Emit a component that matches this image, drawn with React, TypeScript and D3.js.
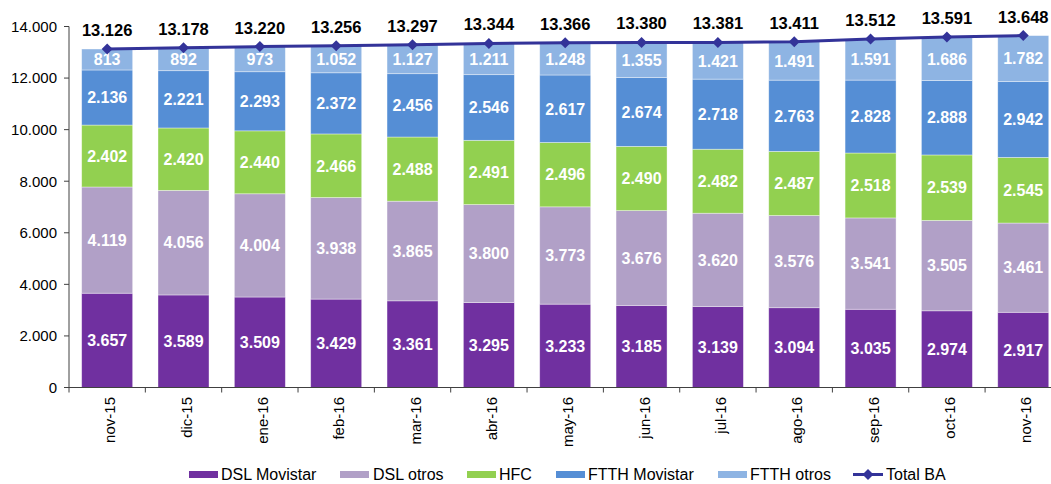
import React from "react";
import * as d3 from "d3";

const categories = ["nov-15","dic-15","ene-16","feb-16","mar-16","abr-16","may-16","jun-16","jul-16","ago-16","sep-16","oct-16","nov-16"];
const dslMovistar = [3657,3589,3509,3429,3361,3295,3233,3185,3139,3094,3035,2974,2917];
const dslOtros = [4119,4056,4004,3938,3865,3800,3773,3676,3620,3576,3541,3505,3461];
const hfc = [2402,2420,2440,2466,2488,2491,2496,2490,2482,2487,2518,2539,2545];
const ftthMovistar = [2136,2221,2293,2372,2456,2546,2617,2674,2718,2763,2828,2888,2942];
const ftthOtros = [813,892,973,1052,1127,1211,1248,1355,1421,1491,1591,1686,1782];
const totalBA = [13126,13178,13220,13256,13297,13344,13366,13380,13381,13411,13512,13591,13648];
const yTicks = [0,2000,4000,6000,8000,10000,12000,14000];

const seriesNames = ["DSL Movistar","DSL otros","HFC","FTTH Movistar","FTTH otros"];
const seriesData = [dslMovistar, dslOtros, hfc, ftthMovistar, ftthOtros];
const colors = ["#7030A0","#B1A0C7","#92D050","#558ED5","#8EB4E3"];
const lineColor = "#333399";

const fmt = (v: number) => {
  const s = String(v);
  return s.length > 3 ? s.slice(0, s.length - 3) + "." + s.slice(s.length - 3) : s;
};

const FONT = "'Liberation Sans', Arial, sans-serif";

export default function App() {
  const W = 1051, H = 484;
  const x0 = 69, x1 = 69 + 13 * 76.34;
  const x = d3.scaleBand<string>().domain(categories).range([x0, x1]).paddingInner(0.332).paddingOuter(0.166);
  const y = d3.scaleLinear().domain([0, 14000]).range([387.5, 26.5]);
  const step = x.step();

  const rows = categories.map((c, i) => {
    const obj: any = { cat: c };
    seriesNames.forEach((n, k) => (obj[n] = seriesData[k][i]));
    return obj;
  });
  const stacked = d3.stack().keys(seriesNames)(rows);

  const line = d3.line<number>().x((_, i) => x(categories[i])! + x.bandwidth() / 2).y((d) => y(d));

  const legendItems = [
    { name: "DSL Movistar", sx: 189, tx: 221, color: colors[0] },
    { name: "DSL otros", sx: 340, tx: 373, color: colors[1] },
    { name: "HFC", sx: 467, tx: 499, color: colors[2] },
    { name: "FTTH Movistar", sx: 556, tx: 588, color: colors[3] },
    { name: "FTTH otros", sx: 718, tx: 750, color: colors[4] },
  ];
  const ly = 474;

  return (
    <svg width={W} height={H} style={{ position: "absolute", left: 0, top: 0 }} fontFamily={FONT}>
      <rect x={0} y={0} width={W} height={H} fill="#fff" />
      {/* bars */}
      {stacked.map((layer, k) => (
        <g key={k}>
          {layer.map((d, i) => (
            <rect key={i} x={x(categories[i])} y={y(d[1])} width={x.bandwidth()} height={y(d[0]) - y(d[1])}
              fill={colors[k]} stroke="#ffffff" strokeOpacity={0.5} strokeWidth={0.75} />
          ))}
          {layer.map((d, i) => (
            <text key={"t" + i} x={x(categories[i])! + x.bandwidth() / 2} y={(y(d[0]) + y(d[1])) / 2}
              dy="0.36em" textAnchor="middle" fill="#fff" fontWeight="bold" fontSize={16}>
              {fmt(seriesData[k][i])}
            </text>
          ))}
        </g>
      ))}
      {/* y axis */}
      <line x1={x0} x2={x0} y1={y(14000)} y2={y(0)} stroke="#404040" strokeWidth={1} />
      {yTicks.map((t) => (
        <g key={t}>
          <line x1={x0 - 5} x2={x0} y1={y(t)} y2={y(t)} stroke="#404040" />
          <text x={57} y={y(t)} dy="0.36em" textAnchor="end" fontSize={15} fill="#000">{fmt(t)}</text>
        </g>
      ))}
      {/* x axis */}
      <line x1={x0} x2={x1} y1={y(0)} y2={y(0)} stroke="#404040" strokeWidth={1} />
      {d3.range(categories.length + 1).map((i) => (
        <line key={i} x1={x0 + i * step} x2={x0 + i * step} y1={y(0)} y2={y(0) + 5} stroke="#404040" />
      ))}
      {categories.map((c) => (
        <text key={c} transform={`translate(${x(c)! + x.bandwidth() / 2},397) rotate(-90)`} y={8}
          textAnchor="end" fontSize={15} fill="#000">{c}</text>
      ))}
      {/* total line */}
      <path d={line(totalBA) || ""} fill="none" stroke={lineColor} strokeWidth={3} />
      {totalBA.map((v, i) => {
        const cx = x(categories[i])! + x.bandwidth() / 2, cy = y(v);
        return (
          <g key={i}>
            <path d={`M${cx},${cy - 5.5}L${cx + 5.5},${cy}L${cx},${cy + 5.5}L${cx - 5.5},${cy}Z`} fill={lineColor} />
            <text x={cx} y={cy - 19} dy="0.36em" textAnchor="middle" fontWeight="bold" fontSize={16.5} fill="#000">{fmt(v)}</text>
          </g>
        );
      })}
      {/* legend */}
      {legendItems.map((it) => (
        <g key={it.name}>
          <rect x={it.sx} y={ly - 3} width={29} height={7} fill={it.color} />
          <text x={it.tx} y={ly} dy="0.35em" fontSize={16} fill="#000">{it.name}</text>
        </g>
      ))}
      <line x1={853} x2={883} y1={ly + 0.5} y2={ly + 0.5} stroke={lineColor} strokeWidth={3} />
      <path d={`M868,${ly - 5}L873.5,${ly + 0.5}L868,${ly + 6}L862.5,${ly + 0.5}Z`} fill={lineColor} />
      <text x={886} y={ly} dy="0.35em" fontSize={16} fill="#000">Total BA</text>
    </svg>
  );
}
